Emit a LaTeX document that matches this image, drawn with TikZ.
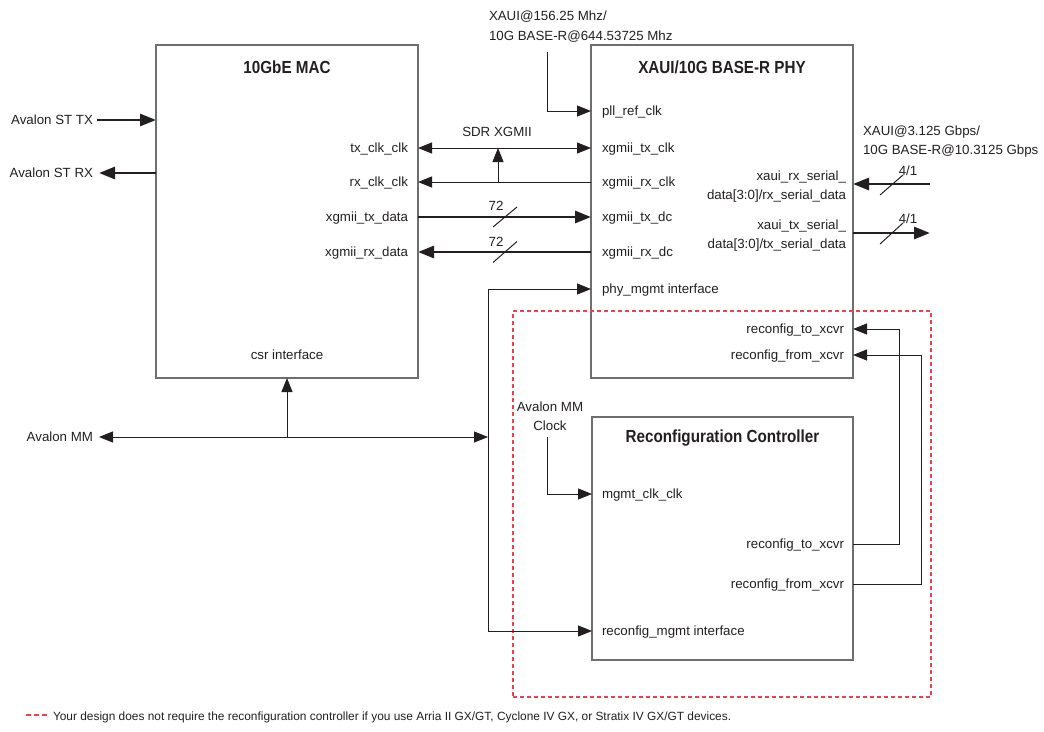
\documentclass[tikz,border=0pt]{standalone}
\usepackage{fontspec}
\setmainfont{Liberation Sans}
\newfontfamily\titlefont{Liberation Sans}[FakeStretch=0.87]
\usetikzlibrary{arrows.meta}
\definecolor{ink}{HTML}{231F20}
\definecolor{boxgray}{HTML}{6D6E71}
\definecolor{dashred}{RGB}{240,64,78}
\begin{document}
\begin{tikzpicture}[x=1pt,y=-1pt,
  font=\fontsize{13.3}{16}\selectfont,
  every node/.style={inner sep=0pt, outer sep=0pt, text=ink},
  blockbox/.style={draw=boxgray, line width=1.3pt, minimum width=262pt},
  blocktitle/.style={font=\titlefont\fontsize{17.5}{20}\selectfont\bfseries, anchor=base},
  lbe/.style={anchor=base east},
  lbw/.style={anchor=base west},
  lbc/.style={anchor=base},
  sigarrow/.style={draw=ink, line width=1pt, -{Triangle[length=14pt,width=11pt]}},
  sigboth/.style={draw=ink, line width=1pt, {Triangle[length=14pt,width=11pt]}-{Triangle[length=14pt,width=11pt]}},
  busarrow/.style={draw=ink, line width=2.8pt, -{Triangle[length=16pt,width=12pt]}},
  slashline/.style={draw=ink, line width=1pt},
  reddash/.style={draw=dashred, line width=1.1pt, dash pattern=on 4pt off 3pt}
]
\useasboundingbox (0,0) rectangle (1044,731);

% ---------- blocks ----------
\node[blockbox, minimum height=333pt] (mac) at (287,211.5) {};
\node[blockbox, minimum height=333pt] (phy) at (722,211.5) {};
\node[blockbox, minimum width=261pt, minimum height=243pt] (rc) at (722.5,538.5) {};
\node[reddash, minimum width=418pt, minimum height=386pt] (opt) at (722,504) {};

\node[blocktitle] (mactitle) at (287,73) {10GbE MAC};
\node[blocktitle] (phytitle) at (722,73) {XAUI/10G BASE-R PHY};
\node[blocktitle] (rctitle) at (722.5,442) {Reconfiguration Controller};

% ---------- row coordinates ----------
\coordinate (ySTTX) at (0,120);
\coordinate (ySTRX) at (0,173);
\coordinate (yPll) at (0,111);
\coordinate (yTxclk) at (0,148);
\coordinate (yRxclk) at (0,182);
\coordinate (yTxd) at (0,217);
\coordinate (yRxd) at (0,252);
\coordinate (yPmgmt) at (0,289);
\coordinate (yRxser) at (0,184);
\coordinate (yTxser) at (0,233);
\coordinate (yPto) at (0,329);
\coordinate (yPfrom) at (0,355);
\coordinate (yMM) at (0,437);
\coordinate (yMclk) at (0,494);
\coordinate (yRto) at (0,544);
\coordinate (yRfrom) at (0,584);
\coordinate (yRmgmt) at (0,631);

% ---------- MAC labels ----------
\node[lbe] (sttxL) at (93,124.5) {Avalon ST TX};
\node[lbe] (strxL) at (93,177.5) {Avalon ST RX};
\node[lbe] (mmL) at (93,441.5) {Avalon MM};
\node[lbe] (txclkL) at (408,152.5) {tx\_clk\_clk};
\node[lbe] (rxclkL) at (408,186.5) {rx\_clk\_clk};
\node[lbe] (txdataL) at (408,221.5) {xgmii\_tx\_data};
\node[lbe] (rxdataL) at (408,256.5) {xgmii\_rx\_data};
\node[lbc] (csrL) at (287,359) {csr interface};

% ---------- PHY labels ----------
\node[lbw] (pllL) at (602,115.5) {pll\_ref\_clk};
\node[lbw] (ptxclkL) at (602,152.5) {xgmii\_tx\_clk};
\node[lbw] (prxclkL) at (602,186.5) {xgmii\_rx\_clk};
\node[lbw] (ptxdcL) at (602,221.5) {xgmii\_tx\_dc};
\node[lbw] (prxdcL) at (602,256.5) {xgmii\_rx\_dc};
\node[lbw] (pmgmtL) at (602,293.5) {phy\_mgmt interface};
\node[lbe] (rxserA) at (846,180) {xaui\_rx\_serial\_};
\node[lbe] (rxserB) at (846,199) {data[3:0]/rx\_serial\_data};
\node[lbe] (txserA) at (846,229) {xaui\_tx\_serial\_};
\node[lbe] (txserB) at (846,248) {data[3:0]/tx\_serial\_data};
\node[lbe] (ptoL) at (844,333.5) {reconfig\_to\_xcvr};
\node[lbe] (pfromL) at (844,359.5) {reconfig\_from\_xcvr};

% ---------- Reconfiguration controller labels ----------
\node[lbw] (mclkL) at (602,498.5) {mgmt\_clk\_clk};
\node[lbe] (rtoL) at (844,548.5) {reconfig\_to\_xcvr};
\node[lbe] (rfromL) at (844,588.5) {reconfig\_from\_xcvr};
\node[lbw] (rmgmtL) at (602,635.5) {reconfig\_mgmt interface};

% ---------- free labels ----------
\node[lbw] (refA) at (489,20.7) {XAUI@156.25 Mhz/};
\node[lbw] (refB) at (489,40.7) {10G BASE-R@644.53725 Mhz};
\node[lbw] (serA) at (863,135) {XAUI@3.125 Gbps/};
\node[lbw] (serB) at (863,154) {10G BASE-R@10.3125 Gbps};
\node[lbc] (sdrL) at (497,136) {SDR XGMII};
\node[lbc] (w72a) at (496,210) {72};
\node[lbc] (w72b) at (496,246.5) {72};
\node[lbc] (w41a) at (908,175.5) {4/1};
\node[lbc] (w41b) at (908,223) {4/1};
\node[lbc] (mmcA) at (550,411) {Avalon MM};
\node[lbc] (mmcB) at (550,430) {Clock};

% ---------- connector end points ----------
\coordinate (sttxSrc) at (97,120);
\coordinate (strxDst) at (99,173);
\coordinate (mmDst) at (99,437);
\coordinate (sdrFoot) at (498,182);
\coordinate (csrFoot) at (287,437);
\coordinate (bus) at (488,437);
\coordinate (pllSrc) at (547,52);
\coordinate (mclkSrc) at (547,437);
\coordinate (rxserSrc) at (930,184);
\coordinate (txserDst) at (930,233);
\coordinate (loopTo) at (899,0);
\coordinate (loopFrom) at (921,0);
\coordinate (slA) at (505,217);
\coordinate (slB) at (505,252);
\coordinate (slC) at (891.5,185);
\coordinate (slD) at (891.5,233.5);

% ---------- MAC side ----------
\draw[busarrow] (sttxSrc) -- (sttxSrc -| mac.west);
\draw[busarrow] (mac.west |- ySTRX) -- (strxDst);

% ---------- XGMII ----------
\draw[sigboth] (mac.east |- yTxclk) -- (phy.west |- yTxclk);
\draw[sigarrow] (phy.west |- yRxclk) -- (mac.east |- yRxclk);
\draw[sigarrow] (sdrFoot) -- (sdrFoot |- yTxclk);
\draw[busarrow] (mac.east |- yTxd) -- (phy.west |- yTxd);
\draw[busarrow] (phy.west |- yRxd) -- (mac.east |- yRxd);
\draw[slashline] ([shift={(-12,10)}]slA) -- ([shift={(12,-10)}]slA);
\draw[slashline] ([shift={(-12,10.5)}]slB) -- ([shift={(12,-10.5)}]slB);

% ---------- clocks ----------
\draw[sigarrow] (pllSrc) |- (phy.west |- yPll);
\draw[sigarrow] (mclkSrc) |- (rc.west |- yMclk);

% ---------- Avalon MM ----------
\draw[sigboth] (mmDst) -- (bus);
\draw[sigarrow] (csrFoot) -- (mac.south);
\draw[sigarrow] (bus) |- (phy.west |- yPmgmt);
\draw[sigarrow] (bus) |- (rc.west |- yRmgmt);

% ---------- serial ----------
\draw[busarrow] (rxserSrc) -- (rxserSrc -| phy.east);
\draw[busarrow] (phy.east |- yTxser) -- (txserDst);
\draw[slashline] ([shift={(-11.5,10)}]slC) -- ([shift={(11.5,-10)}]slC);
\draw[slashline] ([shift={(-11.5,10.5)}]slD) -- ([shift={(11.5,-10.5)}]slD);

% ---------- reconfig loops ----------
\draw[sigarrow] (rc.east |- yRto) -| (loopTo |- yPto) -- (phy.east |- yPto);
\draw[sigarrow] (rc.east |- yRfrom) -| (loopFrom |- yPfrom) -- (phy.east |- yPfrom);

% ---------- footnote ----------
\coordinate (legA) at (26,715);
\coordinate (legB) at (47,715);
\draw[reddash, dash pattern=on 5pt off 3pt] (legA) -- (legB);
\node[lbw, font=\fontsize{11.9}{14}\selectfont] (note) at (53,720.7) {Your design does not require the reconfiguration controller if you use Arria II GX/GT, Cyclone IV GX, or Stratix IV GX/GT devices.};
\end{tikzpicture}
\end{document}
